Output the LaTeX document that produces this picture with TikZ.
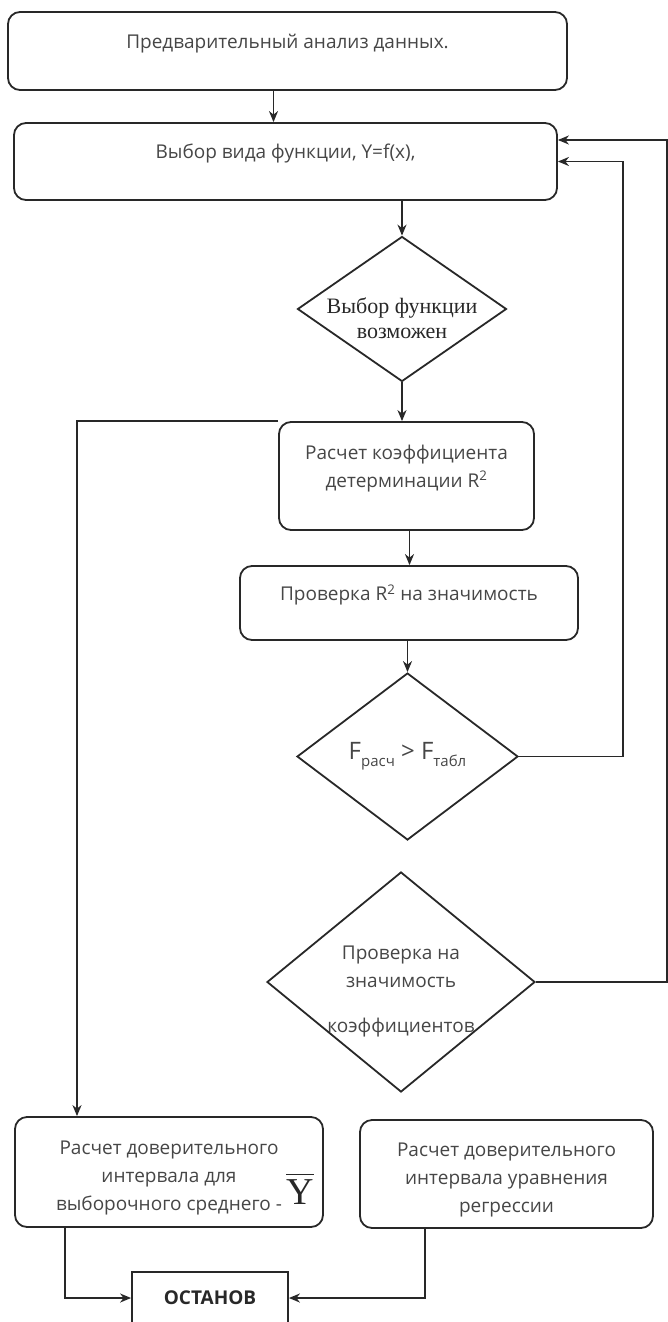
\documentclass[tikz,border=0pt]{standalone}
\usepackage{fontspec}
\setmainfont{Open Sans}
\newfontfamily\serifface{Liberation Serif}
\usetikzlibrary{arrows.meta,shapes.geometric}

\definecolor{linegray}{RGB}{40,40,40}
\definecolor{textgray}{RGB}{70,70,70}

\newcommand\lowsub[1]{\raisebox{-0.3em}{\fontsize{15}{16}\selectfont #1}}

\begin{document}
\begin{tikzpicture}[x=1pt,y=-1pt]
      \tikzset { box/.style = { shape=rectangle,rounded corners=12pt,draw=linegray,line width=1.8pt,
                                align=center,text=textgray,font=\fontsize{19}{28}\selectfont } }
      \tikzset { decision/.style = { shape=diamond,draw=linegray,line width=1.8pt } }
      \tikzset { dtext/.style = { align=center,text=textgray,font=\fontsize{19}{28}\selectfont } }
      \tikzset { edge/.style = { ->,> = {Stealth[length=11pt,width=9pt,inset=3.5pt]},draw=linegray,line width=1.8pt } }

      \useasboundingbox (0,0) rectangle (668,1322);

      \node[box,minimum width=559pt,minimum height=78pt] (pre) at (287.5,51) {Предварительный анализ данных.\\[-8pt]\mbox{}};
      \node[box,minimum width=543pt,minimum height=77pt] (sel) at (285.5,161.5) {Выбор вида функции, Y=f(x),\\[-8pt]\mbox{}};
      \node[decision,minimum width=209pt,minimum height=145pt] (choose) at (402,309) {};
      \node[dtext,font=\serifface\fontsize{22}{25}\selectfont,text=linegray] (choosetxt) at ([yshift=-9pt]choose.center) {Выбор функции\\возможен};
      \node[box,minimum width=255pt,minimum height=108pt] (coef) at (406.5,476) {Расчет коэффициента\\детерминации R\textsuperscript{2}\\[-8pt]\mbox{}};
      \node[box,minimum width=338pt,minimum height=74pt] (chk) at (409,603) {Проверка R\textsuperscript{2} на значимость\\[-8pt]\mbox{}};
      \node[decision,minimum width=221pt,minimum height=167pt] (fcmp) at (407.5,756.5) {};
      \node[dtext,font=\fontsize{24}{28}\selectfont] (fcmptxt) at (fcmp) {F\lowsub{расч} > F\lowsub{табл}};
      \node[decision,minimum width=268pt,minimum height=220pt] (sig) at (401,982) {};
      \node[dtext] (sigtxt) at ([yshift=-9.5pt]sig.center) {Проверка на\\значимость\\[17pt]коэффициентов};
      \node[box,minimum width=308pt,minimum height=110pt] (ybox) at (169,1172) {\mbox{}\\[-2pt]Расчет доверительного\\интервала для\\выборочного среднего -};
      \node[font=\serifface\fontsize{38}{38}\selectfont,text=linegray,inner sep=0pt] (ymean) at (300,1189) {\vbox{\hrule height 1.4pt\kern 4pt\hbox{Y}}};
      \node[box,minimum width=293pt,minimum height=108pt] (rbox) at (506.5,1174) {\mbox{}\\[-2pt]Расчет доверительного\\интервала уравнения\\регрессии};
      \node[box,rounded corners=0pt,minimum width=156pt,minimum height=52pt,font=\bfseries\fontsize{19}{22}\selectfont,text=linegray] (stop) at (210,1298) {ОСТАНОВ};

      \draw[edge] ([xshift=-14pt]pre.south) -- ([xshift=-14pt]pre.south |- sel.north);
      \draw[edge] (sel.south -| choose.north) -- (choose.north);
      \draw[edge] (choose.south) -- (choose.south |- coef.north);
      \draw[edge] ([xshift=3pt]coef.south) -- ([xshift=3pt]coef.south |- chk.north);
      \draw[edge] (chk.south -| fcmp.north) -- (fcmp.north);
      \draw[edge] (fcmp.east) -| ([xshift=65pt]sel.east) -- (sel.east);
      \draw[edge] (sig.east) -| ([xshift=109pt,yshift=21.5pt]sel.east) -- ([yshift=21.5pt]sel.east);
      \draw[edge] (coef.north west) -| ([xshift=-92pt]ybox.north);
      \draw[edge] ([xshift=-104pt]ybox.south) |- (stop.west);
      \draw[edge] ([xshift=-81.5pt]rbox.south) |- (stop.east);

    \end{tikzpicture}
\end{document}
